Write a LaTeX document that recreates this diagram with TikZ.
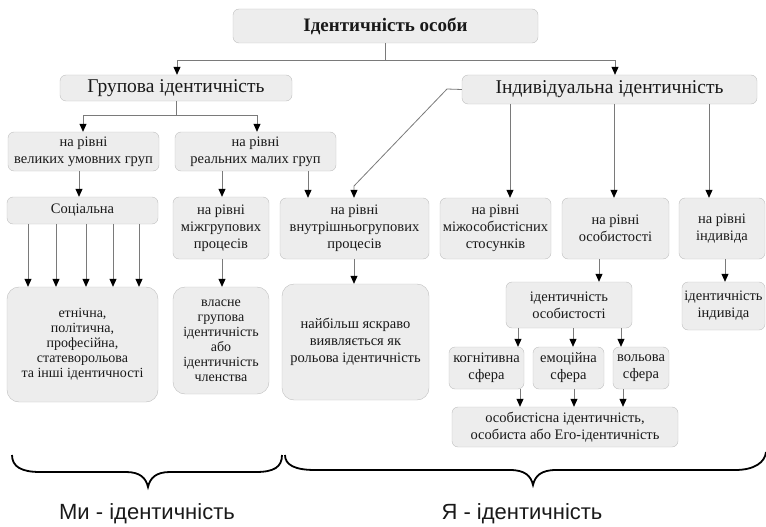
\documentclass[tikz,border=0pt]{standalone}
\usepackage{fontspec}
\setmainfont{Liberation Serif}
\newfontfamily\labelfont{Liberation Sans}
\usetikzlibrary{arrows.meta}
\newcommand\myfs[2]{\fontsize{#1}{#2}\selectfont}
\definecolor{boxfill}{HTML}{EDEDED}
\definecolor{boxline}{HTML}{BFBFBF}
\definecolor{conn}{HTML}{7A7A7A}
\begin{document}
\begin{tikzpicture}[x=1pt,y=-1pt,
  box/.style={draw=boxline, fill=boxfill, rounded corners=6pt, align=center, inner sep=1pt, font=\myfs{14.5}{17}, text=black!90},
  bigbox/.style={box, rounded corners=12pt},
  arr/.style={draw=conn, line width=0.8pt, -{Triangle[color=black,length=8pt,width=7pt]}},
  ln/.style={draw=conn, line width=0.8pt},
  brace/.style={draw=black, line width=1.8pt},
  lab/.style={font=\labelfont\myfs{22}{26}, text=black!90}
]
\useasboundingbox (0,0) rectangle (766,527);

% nodes
\node[box, font=\bfseries\myfs{19}{22}, minimum width=305pt, minimum height=34pt] (top) at (385.5,26) {Ідентичність особи};
\node[box, font=\myfs{19.5}{22}, minimum width=232pt, minimum height=26pt] (grp) at (176,88) {Групова ідентичність};
\node[box, font=\myfs{19.5}{22}, minimum width=295pt, minimum height=29pt] (ind) at (609.5,89.5) {Індивідуальна ідентичність};

\node[box, minimum width=151pt, minimum height=39pt] (v1) at (83.5,151.5) {на рівні\\великих умовних груп};
\node[box, minimum width=161pt, minimum height=39pt] (v2) at (255.5,151.5) {на рівні\\реальних малих груп};

\node[box, minimum width=151pt, minimum height=27pt] (soc) at (82.5,210.5) {Соціальна};
\node[box, minimum width=96pt, minimum height=62pt] (mizhgr) at (221,228) {на рівні\\міжгрупових\\процесів};
\node[box, minimum width=149pt, minimum height=61pt] (vnutr) at (354.5,228.5) {на рівні\\внутрішньогрупових\\процесів};
\node[box, minimum width=111pt, minimum height=61pt] (mizhos) at (495.5,228.5) {на рівні\\міжособистісних\\стосунків};
\node[box, minimum width=107pt, minimum height=61pt] (osob) at (615.5,228.5) {на рівні\\особистості};
\node[box, minimum width=86pt, minimum height=61pt] (indv) at (722,228.5) {на рівні\\індивіда};

\node[bigbox, font=\myfs{14}{15}, minimum width=151pt, minimum height=115pt] (etn) at (82.5,344.5) {етнічна,\\політична,\\професійна,\\статеворольова\\та інші ідентичності};
\node[bigbox, font=\myfs{14}{15}, minimum width=96pt, minimum height=107pt] (vlasne) at (221,340.5) {власне\\групова\\ідентичність\\або\\ідентичність\\членства};
\node[bigbox, minimum width=147pt, minimum height=116pt] (naib) at (355.5,342) {найбільш яскраво\\виявляється як\\рольова ідентичність};

\node[box, minimum width=126pt, minimum height=46pt] (idos) at (569,305) {ідентичність\\особистості};
\node[box, minimum width=83pt, minimum height=48pt, inner sep=0pt] (idind) at (723.5,306) {ідентичність\\індивіда};

\node[box, minimum width=75pt, minimum height=42pt] (kog) at (486.5,368) {когнітивна\\сфера};
\node[box, minimum width=71pt, minimum height=42pt] (emo) at (568.5,368) {емоційна\\сфера};
\node[box, minimum width=56pt, minimum height=42pt] (vol) at (641,368) {вольова\\сфера};
\node[box, minimum width=226pt, minimum height=40pt] (fin) at (565,427) {особистісна ідентичність,\\особиста або Его-ідентичність};

% connectors
\coordinate (j1) at (385,60);
\draw[ln] (top.south -| 385,0) -- (j1);
\draw[arr] (j1) -| (grp.north -| 177,0);
\draw[arr] (j1) -| (ind.north -| 615,0);

\coordinate (j2) at (176,115);
\draw[ln] (grp.south) -- (j2);
\draw[arr] (j2) -| (v1.north -| 83,0);
\draw[arr] (j2) -| (v2.north -| 257,0);

\draw[arr] (v1.south -| 79,0) -- (soc.north -| 79,0);
\draw[arr] (v2.south -| 222,0) -- (mizhgr.north -| 222,0);
\draw[arr] (v2.south -| 308,0) -- (vnutr.north -| 308,0);

\coordinate (d1) at (447,89);
\coordinate (d2) at (354,186);
\draw[arr] (ind.west) -- (d1) -- (d2) -- (vnutr.north -| 354,0);

\foreach \x in {510,614,709}
  \draw[arr] (ind.south -| \x,0) -- (mizhos.north -| \x,0);

\foreach \x in {28,56,86,113,139}
  \draw[arr] (soc.south -| \x,0) -- (etn.north -| \x,0);

\draw[arr] (mizhgr.south -| 222,0) -- (vlasne.north -| 222,0);
\draw[arr] (vnutr.south -| 354,0) -- (naib.north -| 354,0);
\draw[arr] (osob.south -| 599,0) -- (idos.north -| 599,0);
\draw[arr] (indv.south -| 725,0) -- (idind.north -| 725,0);

\draw[arr] (idos.south -| 518,0) -- (kog.north -| 518,0);
\draw[arr] (idos.south -| 573,0) -- (emo.north -| 573,0);
\draw[arr] (idos.south -| 621,0) -- (vol.north -| 621,0);

\draw[arr] (kog.south -| 520,0) -- (fin.north -| 520,0);
\draw[arr] (emo.south -| 574,0) -- (fin.north -| 574,0);
\draw[arr] (vol.south -| 623,0) -- (fin.north -| 623,0);

% braces
\draw[brace] (12,455) .. controls (12,467) and (22,472) .. (40,472) -- (126,472)
  .. controls (140,472) and (146,478) .. (148,487)
  .. controls (150,478) and (156,472) .. (170,472) -- (256,472)
  .. controls (274,472) and (282,467) .. (282,455);
\draw[brace] (285,455) .. controls (285,465) and (295,470) .. (315,470) -- (510,470)
  .. controls (525,470) and (531,476) .. (533,485)
  .. controls (535,476) and (541,470) .. (556,470) -- (735,470)
  .. controls (755,470) and (765,462) .. (766,452);

\node[lab] (we) at (147,514) {Ми - ідентичність};
\node[lab] (me) at (522,514) {Я - ідентичність};
\end{tikzpicture}
\end{document}
